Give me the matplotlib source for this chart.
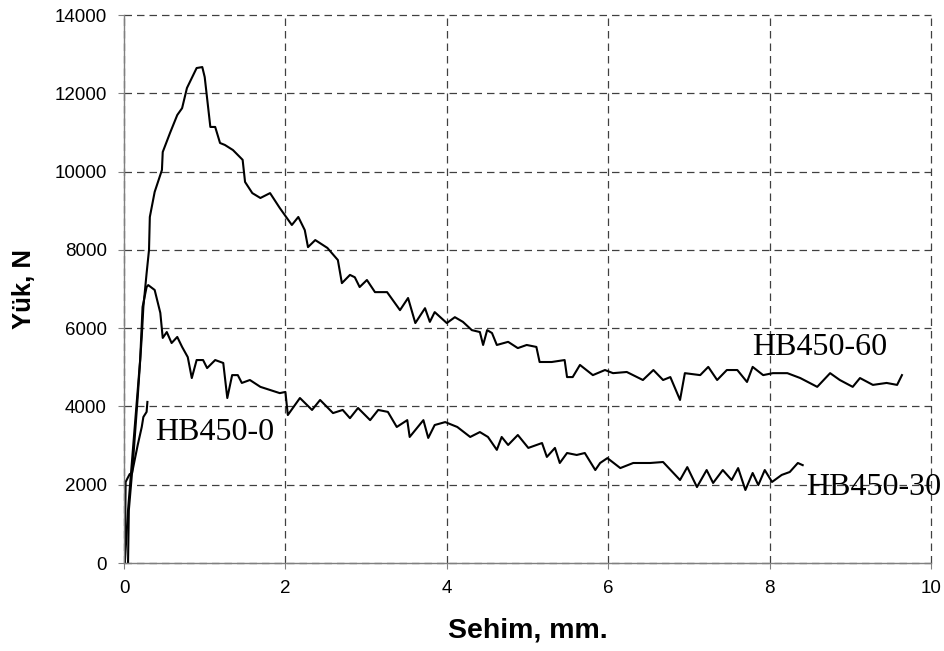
import matplotlib
matplotlib.use("Agg")
import matplotlib.pyplot as plt

# ---------------- data ----------------
x60 = [0.05, 0.06, 0.11, 0.17, 0.22, 0.24, 0.28, 0.31, 0.32, 0.38, 0.47, 0.48, 0.57, 0.66, 0.72,
       0.78, 0.90, 0.97, 1.00, 1.07, 1.13, 1.19, 1.25, 1.35, 1.47, 1.50, 1.59, 1.69, 1.81, 1.93,
       2.08, 2.16, 2.24, 2.28, 2.37, 2.52, 2.65, 2.70, 2.80, 2.86, 2.92, 3.01, 3.11, 3.26, 3.42,
       3.52, 3.61, 3.73, 3.79, 3.85, 4.00, 4.10, 4.20, 4.31, 4.41, 4.45, 4.50, 4.56, 4.62, 4.76,
       4.88, 4.99, 5.11, 5.15, 5.30, 5.46, 5.49, 5.56, 5.65, 5.81, 5.96, 6.06, 6.23, 6.43, 6.56,
       6.68, 6.77, 6.89, 6.95, 7.14, 7.24, 7.35, 7.47, 7.60, 7.72, 7.79, 7.92, 8.04, 8.22, 8.38,
       8.59, 8.75, 8.87, 9.03, 9.12, 9.28, 9.45, 9.58, 9.64]
y60 = [0, 1350, 2555, 4240, 5775, 6540, 7400, 8000, 8840, 9480, 10040, 10500, 10985, 11445, 11620,
       12135, 12645, 12670, 12415, 11140, 11140, 10730, 10680, 10550, 10300, 9735, 9450, 9325, 9450, 9070,
       8635, 8840, 8505, 8070, 8250, 8050, 7740, 7150, 7360, 7300, 7050, 7230, 6920, 6920, 6460,
       6770, 6130, 6510, 6160, 6410, 6130, 6280, 6160, 5950, 5900, 5570, 5950, 5875, 5570, 5650,
       5490, 5570, 5520, 5135, 5135, 5185, 4750, 4750, 5060, 4800, 4930, 4850, 4880, 4675, 4930,
       4675, 4750, 4165, 4850, 4800, 5010, 4675, 4930, 4930, 4625, 5010, 4800, 4850, 4850, 4725,
       4500, 4850, 4675, 4500, 4725, 4550, 4600, 4550, 4800]

x30 = [0.01, 0.05, 0.11, 0.20, 0.23, 0.28, 0.30, 0.38, 0.45, 0.48, 0.53, 0.59, 0.66, 0.72, 0.79,
       0.84, 0.90, 0.98, 1.03, 1.13, 1.23, 1.28, 1.34, 1.41, 1.46, 1.56, 1.69, 1.81, 1.93, 2.00,
       2.03, 2.18, 2.33, 2.43, 2.59, 2.71, 2.80, 2.90, 3.05, 3.15, 3.27, 3.38, 3.51, 3.54, 3.71,
       3.77, 3.85, 3.98, 4.13, 4.29, 4.41, 4.51, 4.62, 4.68, 4.76, 4.88, 5.01, 5.18, 5.24, 5.34,
       5.40, 5.49, 5.61, 5.71, 5.84, 5.90, 5.99, 6.15, 6.31, 6.52, 6.68, 6.89, 6.98, 7.10, 7.22,
       7.30, 7.42, 7.53, 7.61, 7.70, 7.79, 7.86, 7.94, 8.03, 8.15, 8.25, 8.35, 8.41]
y30 = [0, 1350, 2890, 5185, 6540, 7050, 7100, 6975, 6390, 5750, 5900, 5620, 5775, 5520, 5260,
       4725, 5185, 5185, 4980, 5185, 5110, 4215, 4800, 4800, 4600, 4675, 4500, 4420, 4340, 4370,
       3780, 4215, 3910, 4165, 3830, 3910, 3700, 3960, 3650, 3910, 3860, 3475, 3650, 3220, 3650,
       3195, 3525, 3600, 3475, 3220, 3345, 3220, 2890, 3220, 3015, 3270, 2940, 3065, 2710, 2940,
       2555, 2810, 2760, 2810, 2375, 2555, 2680, 2425, 2555, 2555, 2580, 2120, 2450, 1940, 2375,
       2045, 2375, 2120, 2425, 1865, 2300, 1990, 2375, 2070, 2250, 2325, 2555, 2500]

x0 = [0.01, 0.02, 0.07, 0.10, 0.14, 0.17, 0.22, 0.24, 0.28, 0.29]
y0 = [0, 2070, 2270, 2300, 2710, 3015, 3475, 3730, 3860, 4115]

series_labels = ["HB450-60", "HB450-30", "HB450-0"]
x_ticks = [0, 2, 4, 6, 8, 10]
y_ticks = [0, 2000, 4000, 6000, 8000, 10000, 12000, 14000]
x_title = "Sehim, mm."
y_title = "Yük, N"

# ---------------- figure ----------------
fig = plt.figure(figsize=(9.44, 6.51), dpi=100)
ax = fig.add_axes([124 / 944, 1 - 563 / 651, (931 - 124) / 944, (563 - 15) / 651])

for xs, ys in [(x60, y60), (x30, y30), (x0, y0)]:
    ax.plot(xs, ys, color="black", lw=1.5, solid_joinstyle="round")

ax.set_xlim(0, 10)
ax.set_ylim(0, 14000)
ax.set_xticks(x_ticks)
ax.set_yticks(y_ticks)
ax.set_xticklabels([str(v) for v in x_ticks], fontsize=13.5, family="Liberation Sans")
ax.set_yticklabels([str(v) for v in y_ticks], fontsize=13.5, family="Liberation Sans")
ax.tick_params(direction="out", length=4.3, width=0.8, color="#808080")
ax.tick_params(axis="x", pad=8)
ax.tick_params(axis="y", pad=8)

ax.grid(True, color="#404040", lw=0.9, linestyle=(0, (6, 4)))
for side in ["top", "right"]:
    ax.spines[side].set_visible(False)
for side in ["left", "bottom"]:
    ax.spines[side].set_color("#808080")
    ax.spines[side].set_linewidth(1.0)
ax.set_axisbelow(True)
for gl in ax.get_xgridlines() + ax.get_ygridlines():
    gl.set_clip_on(False)

ax.set_xlabel(x_title, fontsize=20.5, fontweight="bold", family="Liberation Sans", labelpad=15)
ax.set_ylabel(y_title, fontsize=18.5, fontweight="bold", family="Liberation Sans", labelpad=13)

ax.text(7.78, 5500, series_labels[0], fontsize=23, family="Liberation Serif", va="center", ha="left")
ax.text(8.45, 1940, series_labels[1], fontsize=23, family="Liberation Serif", va="center", ha="left")
ax.text(0.38, 3345, series_labels[2], fontsize=23, family="Liberation Serif", va="center", ha="left")

fig.savefig("out.png", dpi=100)
